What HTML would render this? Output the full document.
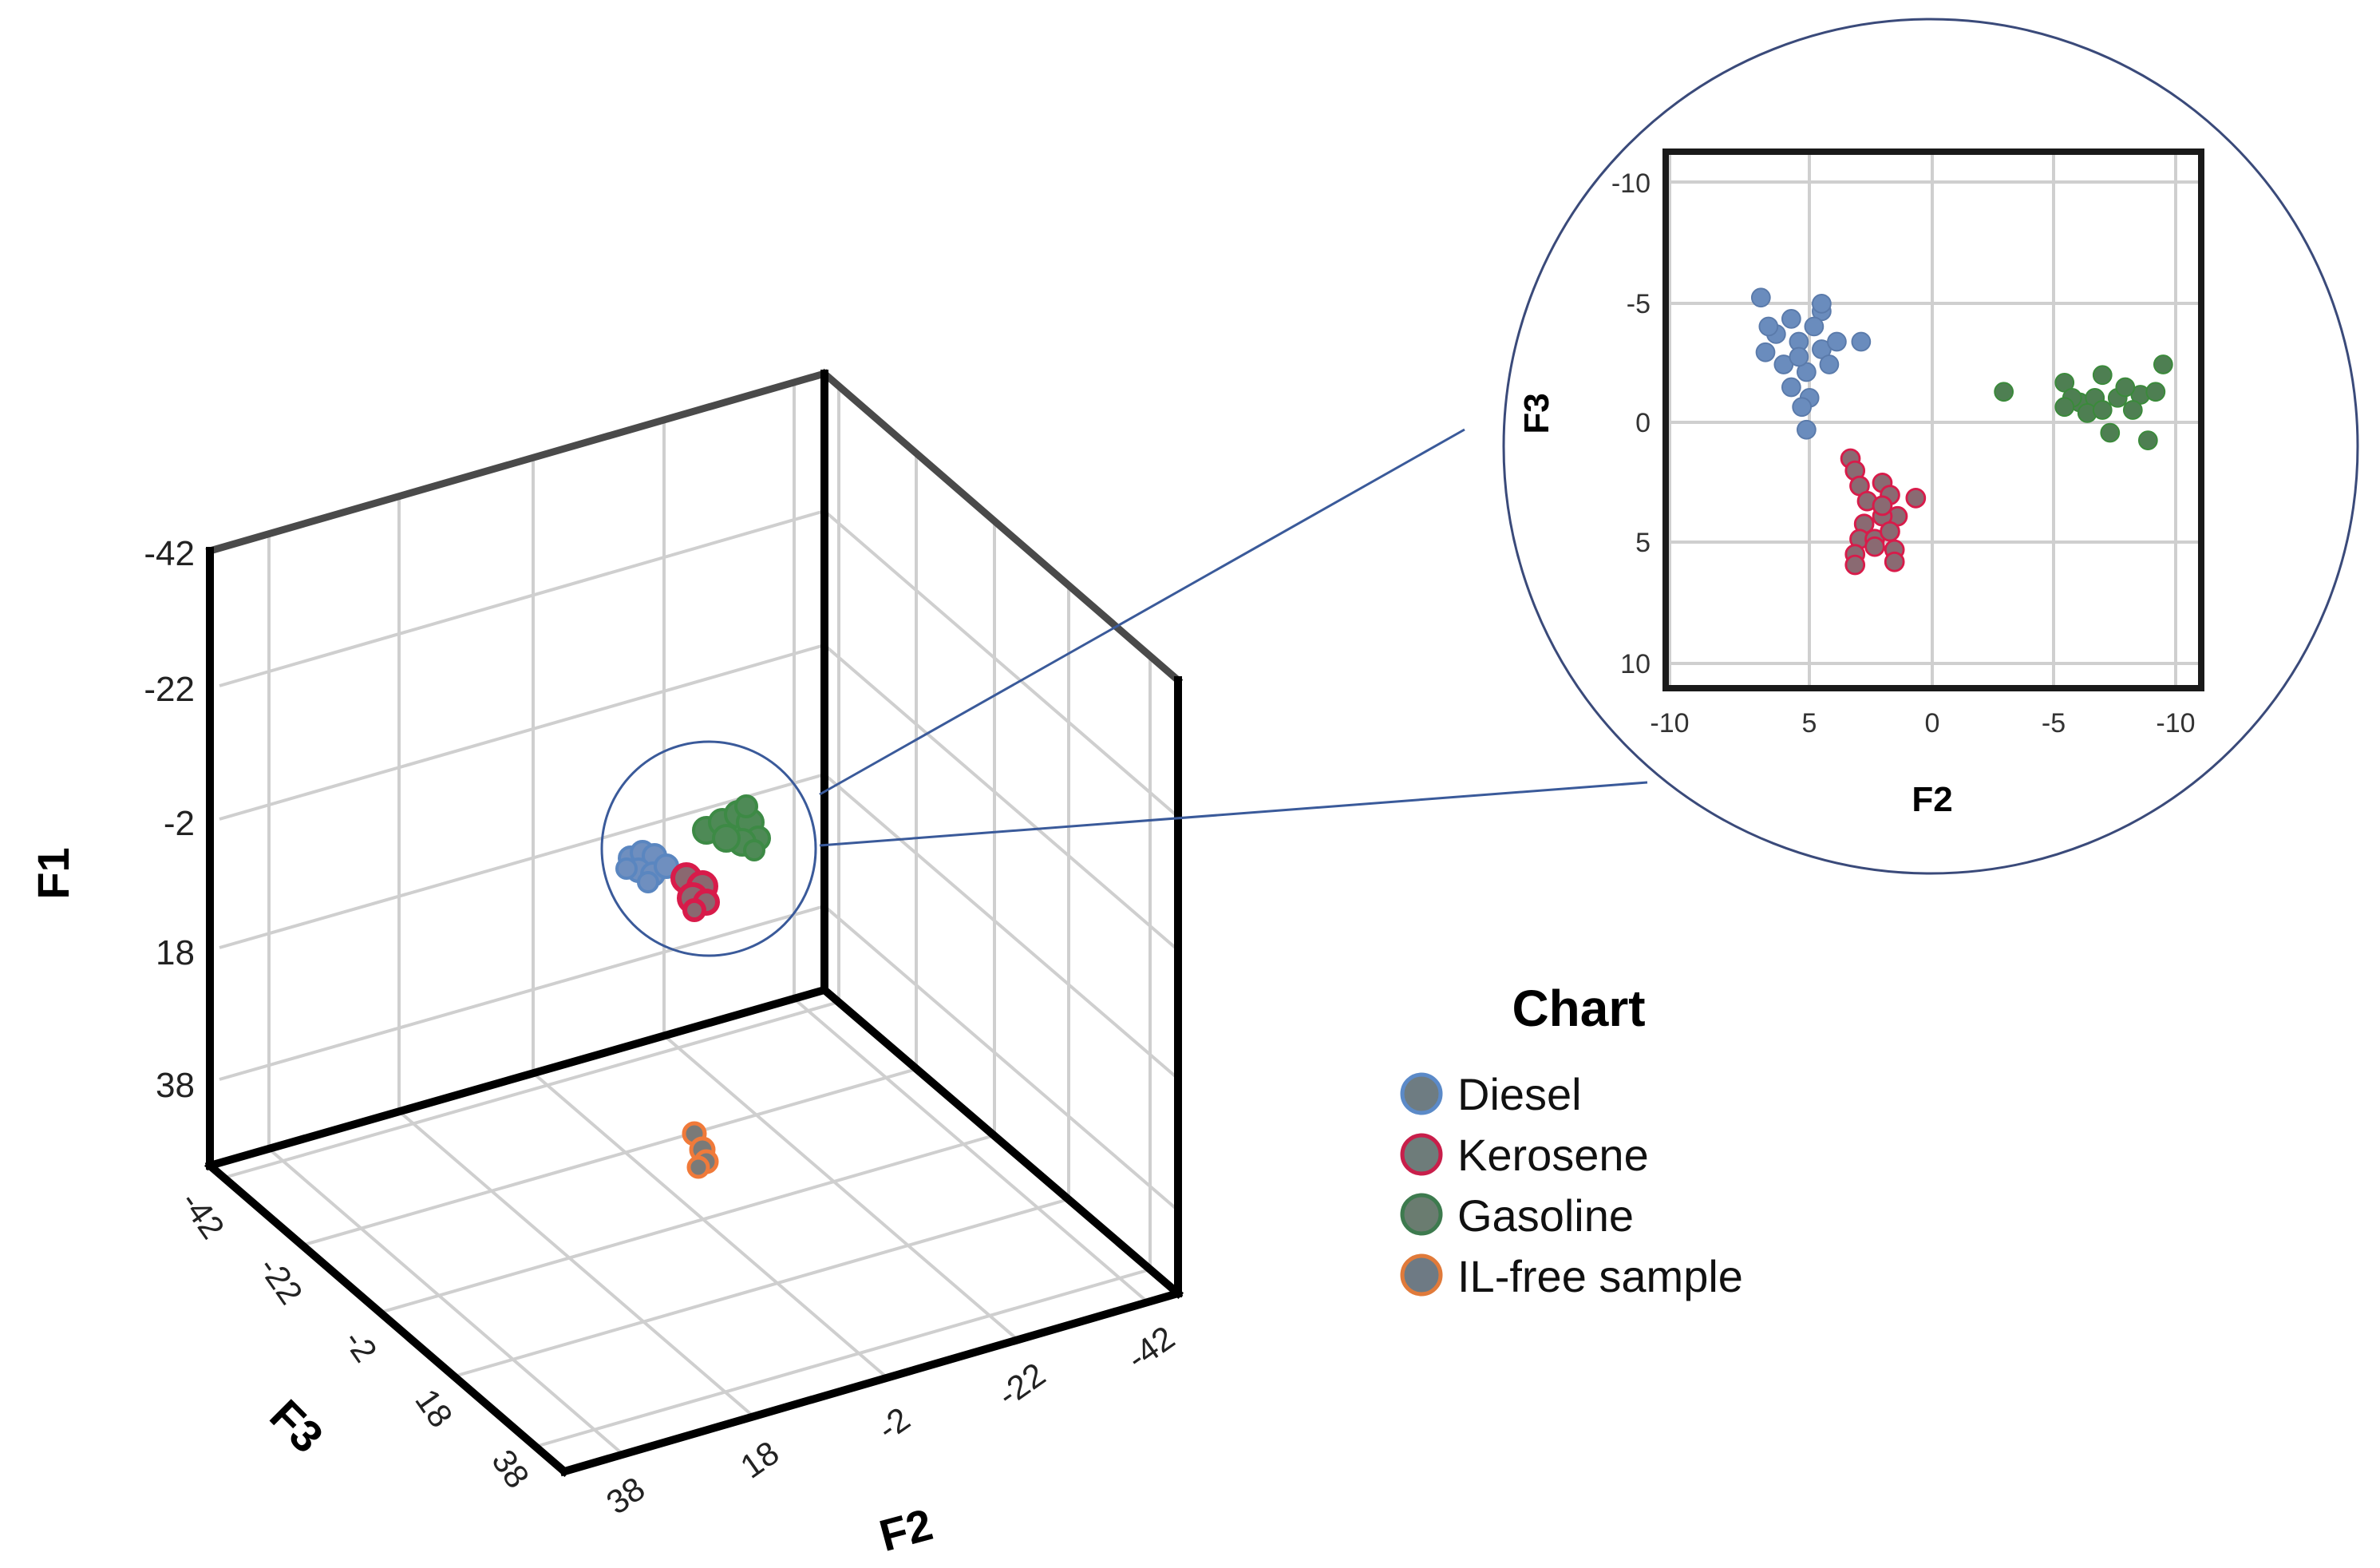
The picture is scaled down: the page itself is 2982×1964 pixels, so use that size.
<!DOCTYPE html>
<html><head><meta charset="utf-8"><style>
html,body{margin:0;padding:0;background:#fff;}
svg{display:block;}
text{font-family:"Liberation Sans",Arial,sans-serif;}
</style></head><body>
<svg width="2982" height="1964" viewBox="0 0 2982 1964" xmlns="http://www.w3.org/2000/svg">
<rect width="2982" height="1964" fill="#fff"/>
<g stroke="#cfcfcf" stroke-width="4" fill="none">
<line x1="337" y1="669" x2="337" y2="1439"/>
<line x1="500" y1="622" x2="500" y2="1392"/>
<line x1="668" y1="573" x2="668" y2="1344"/>
<line x1="832" y1="526" x2="832" y2="1297"/>
<line x1="995" y1="479" x2="995" y2="1251"/>
<line x1="275" y1="859" x2="1033" y2="640"/>
<line x1="275" y1="1026" x2="1033" y2="808"/>
<line x1="275" y1="1187" x2="1033" y2="970"/>
<line x1="275" y1="1352" x2="1033" y2="1135"/>
<line x1="1051" y1="483" x2="1051" y2="1255"/>
<line x1="1148" y1="568" x2="1148" y2="1339"/>
<line x1="1246" y1="652" x2="1246" y2="1422"/>
<line x1="1339" y1="733" x2="1339" y2="1502"/>
<line x1="1441" y1="821" x2="1441" y2="1590"/>
<line x1="1033" y1="640" x2="1476" y2="1023"/>
<line x1="1033" y1="808" x2="1476" y2="1190"/>
<line x1="1033" y1="970" x2="1476" y2="1351"/>
<line x1="1033" y1="1135" x2="1476" y2="1516"/>
<line x1="337" y1="1439" x2="781" y2="1822"/>
<line x1="500" y1="1392" x2="944" y2="1774"/>
<line x1="668" y1="1344" x2="1112" y2="1726"/>
<line x1="832" y1="1297" x2="1275" y2="1678"/>
<line x1="995" y1="1251" x2="1438" y2="1631"/>
<line x1="281" y1="1475" x2="1051" y2="1255"/>
<line x1="378" y1="1560" x2="1148" y2="1339"/>
<line x1="476" y1="1644" x2="1246" y2="1422"/>
<line x1="569" y1="1724" x2="1339" y2="1502"/>
<line x1="671" y1="1812" x2="1441" y2="1590"/>
</g>
<g stroke="#4a4a4a" stroke-width="9" fill="none" stroke-linecap="square">
<line x1="263" y1="690" x2="1033" y2="468"/>
<line x1="1033" y1="468" x2="1476" y2="852"/>
</g>
<g stroke="#000" stroke-width="10" fill="none" stroke-linecap="square">
<line x1="263" y1="690" x2="263" y2="1460"/>
<line x1="1033" y1="468" x2="1033" y2="1240"/>
<line x1="1476" y1="852" x2="1476" y2="1620"/>
<line x1="263" y1="1460" x2="1033" y2="1240"/>
<line x1="1033" y1="1240" x2="1476" y2="1620"/>
<line x1="263" y1="1460" x2="707" y2="1843"/>
<line x1="707" y1="1843" x2="1476" y2="1620"/>
</g>
<g font-size="44" fill="#222" text-anchor="end">
<text x="244" y="708">-42</text>
<text x="244" y="878">-22</text>
<text x="244" y="1046">-2</text>
<text x="244" y="1208">18</text>
<text x="244" y="1374">38</text>
</g>
<text x="0" y="0" font-size="56" font-weight="bold" transform="translate(86,1094) rotate(-90)" text-anchor="middle">F1</text>
<g font-size="42" fill="#222" text-anchor="middle">
<text transform="translate(242,1530) rotate(55)">-42</text>
<text transform="translate(340,1612) rotate(55)">-22</text>
<text transform="translate(440,1694) rotate(55)">-2</text>
<text transform="translate(532,1772) rotate(55)">18</text>
<text transform="translate(628,1848) rotate(55)">38</text>
</g>
<text font-size="56" font-weight="bold" text-anchor="middle" transform="translate(358,1800) rotate(45)">F3</text>
<g font-size="42" fill="#222" text-anchor="middle">
<text transform="translate(792,1885) rotate(-35)">38</text>
<text transform="translate(960,1840) rotate(-35)">18</text>
<text transform="translate(1128,1795) rotate(-35)">-2</text>
<text transform="translate(1288,1746) rotate(-35)">-22</text>
<text transform="translate(1450,1700) rotate(-35)">-42</text>
</g>
<text font-size="56" font-weight="bold" text-anchor="middle" transform="translate(1140,1935) rotate(-15)">F2</text>
<g stroke-width="4">
<g fill="#6f8fbf" stroke="#5a86c0">
<circle cx="790" cy="1075" r="14"/><circle cx="805" cy="1068" r="14"/><circle cx="820" cy="1072" r="14"/><circle cx="800" cy="1090" r="14"/><circle cx="818" cy="1095" r="14"/><circle cx="835" cy="1085" r="14"/><circle cx="812" cy="1105" r="12"/><circle cx="785" cy="1088" r="12"/>
</g>
<g fill="#4e8a56" stroke="#3d8a45">
<circle cx="885" cy="1040" r="16"/><circle cx="905" cy="1030" r="16"/><circle cx="925" cy="1020" r="16"/><circle cx="940" cy="1030" r="16"/><circle cx="950" cy="1050" r="14"/><circle cx="930" cy="1055" r="16"/><circle cx="910" cy="1050" r="16"/><circle cx="945" cy="1065" r="12"/><circle cx="935" cy="1010" r="13"/>
</g>
<g fill="#8a6870" stroke="#d81b4a" stroke-width="6">
<circle cx="860" cy="1100" r="17"/><circle cx="880" cy="1110" r="17"/><circle cx="868" cy="1125" r="17"/><circle cx="885" cy="1130" r="14"/><circle cx="870" cy="1140" r="12"/>
</g>
<g fill="#7a7a78" stroke="#f07a3a" stroke-width="5">
<circle cx="870" cy="1420" r="13"/><circle cx="880" cy="1440" r="14"/><circle cx="885" cy="1455" r="13"/><circle cx="875" cy="1462" r="12"/>
</g>
</g>
<circle cx="888" cy="1063" r="134" fill="none" stroke="#3a5a9a" stroke-width="3"/>
<line x1="1027" y1="995" x2="1835" y2="538" stroke="#3a5a9a" stroke-width="3"/>
<line x1="1027" y1="1059" x2="2064" y2="980" stroke="#3a5a9a" stroke-width="3"/>
<circle cx="2419" cy="559" r="535" fill="#fff" stroke="#3a4a7a" stroke-width="3"/>
<g stroke="#cfcfcf" stroke-width="4">
<line x1="2092" y1="190" x2="2092" y2="862"/>
<line x1="2267" y1="190" x2="2267" y2="862"/>
<line x1="2421" y1="190" x2="2421" y2="862"/>
<line x1="2573" y1="190" x2="2573" y2="862"/>
<line x1="2726" y1="190" x2="2726" y2="862"/>
<line x1="2087" y1="228" x2="2758" y2="228"/>
<line x1="2087" y1="380" x2="2758" y2="380"/>
<line x1="2087" y1="529" x2="2758" y2="529"/>
<line x1="2087" y1="679" x2="2758" y2="679"/>
<line x1="2087" y1="831" x2="2758" y2="831"/>
</g>
<rect x="2087" y="190" width="671" height="672" fill="none" stroke="#1a1a1a" stroke-width="8"/>
<g font-size="34" fill="#333" text-anchor="end">
<text x="2068" y="241">-10</text>
<text x="2068" y="392">-5</text>
<text x="2068" y="541">0</text>
<text x="2068" y="691">5</text>
<text x="2068" y="843">10</text>
</g>
<g font-size="34" fill="#333" text-anchor="middle">
<text x="2092" y="917">-10</text>
<text x="2267" y="917">5</text>
<text x="2421" y="917">0</text>
<text x="2573" y="917">-5</text>
<text x="2726" y="917">-10</text>
</g>
<text x="2421" y="1016" font-size="44" font-weight="bold" text-anchor="middle">F2</text>
<text font-size="44" font-weight="bold" text-anchor="middle" transform="translate(1940,518) rotate(-90)">F3</text>
<g transform="scale(1.902)">
<g fill="#6a8cbd" stroke="#5a7aaa" stroke-width="1">
<circle cx="1160" cy="196" r="6"/><circle cx="1226" cy="225" r="6"/><circle cx="1190" cy="283" r="6"/><circle cx="1163" cy="232" r="6"/><circle cx="1180" cy="210" r="6"/><circle cx="1200" cy="205" r="6"/><circle cx="1195" cy="215" r="6"/><circle cx="1170" cy="220" r="6"/><circle cx="1185" cy="225" r="6"/><circle cx="1200" cy="230" r="6"/><circle cx="1175" cy="240" r="6"/><circle cx="1190" cy="245" r="6"/><circle cx="1205" cy="240" r="6"/><circle cx="1180" cy="255" r="6"/><circle cx="1192" cy="262" r="6"/><circle cx="1187" cy="268" r="6"/><circle cx="1200" cy="200" r="6"/><circle cx="1165" cy="215" r="6"/><circle cx="1210" cy="225" r="6"/><circle cx="1185" cy="235" r="6"/>
</g>
<g fill="#8a6a72" stroke="#d81b4a" stroke-width="1.5">
<circle cx="1219" cy="302" r="6"/><circle cx="1222" cy="310" r="6"/><circle cx="1225" cy="320" r="6"/><circle cx="1230" cy="330" r="6"/><circle cx="1240" cy="318" r="6"/><circle cx="1245" cy="326" r="6"/><circle cx="1262" cy="328" r="6"/><circle cx="1250" cy="340" r="6"/><circle cx="1240" cy="340" r="6"/><circle cx="1228" cy="345" r="6"/><circle cx="1225" cy="355" r="6"/><circle cx="1235" cy="355" r="6"/><circle cx="1245" cy="350" r="6"/><circle cx="1222" cy="365" r="6"/><circle cx="1248" cy="362" r="6"/><circle cx="1235" cy="360" r="6"/><circle cx="1248" cy="370" r="6"/><circle cx="1222" cy="372" r="6"/><circle cx="1240" cy="333" r="6"/>
</g>
<g fill="#4e7f52" stroke="#3a8a3a" stroke-width="1">
<circle cx="1320" cy="258" r="6"/><circle cx="1360" cy="252" r="6"/><circle cx="1385" cy="247" r="6"/><circle cx="1425" cy="240" r="6"/><circle cx="1370" cy="265" r="6"/><circle cx="1380" cy="262" r="6"/><circle cx="1395" cy="262" r="6"/><circle cx="1410" cy="260" r="6"/><circle cx="1420" cy="258" r="6"/><circle cx="1405" cy="270" r="6"/><circle cx="1390" cy="285" r="6"/><circle cx="1415" cy="290" r="6"/><circle cx="1375" cy="272" r="6"/><circle cx="1400" cy="255" r="6"/><circle cx="1385" cy="270" r="6"/><circle cx="1365" cy="262" r="6"/><circle cx="1360" cy="268" r="6"/>
</g>
</g>
<text x="1978" y="1285" font-size="64" font-weight="bold" text-anchor="middle">Chart</text>
<g stroke-width="5">
<circle cx="1781" cy="1370" r="24" fill="#6e7c82" stroke="#5b8ac8"/>
<circle cx="1781" cy="1446" r="24" fill="#6e7c7a" stroke="#c81e4a"/>
<circle cx="1781" cy="1521" r="24" fill="#6a7c70" stroke="#3d7a4e"/>
<circle cx="1781" cy="1597" r="24" fill="#6e7a84" stroke="#e07a3a"/>
</g>
<g font-size="56" fill="#111">
<text x="1826" y="1390">Diesel</text>
<text x="1826" y="1466">Kerosene</text>
<text x="1826" y="1542">Gasoline</text>
<text x="1826" y="1618">IL-free sample</text>
</g>
</svg>
</body></html>
